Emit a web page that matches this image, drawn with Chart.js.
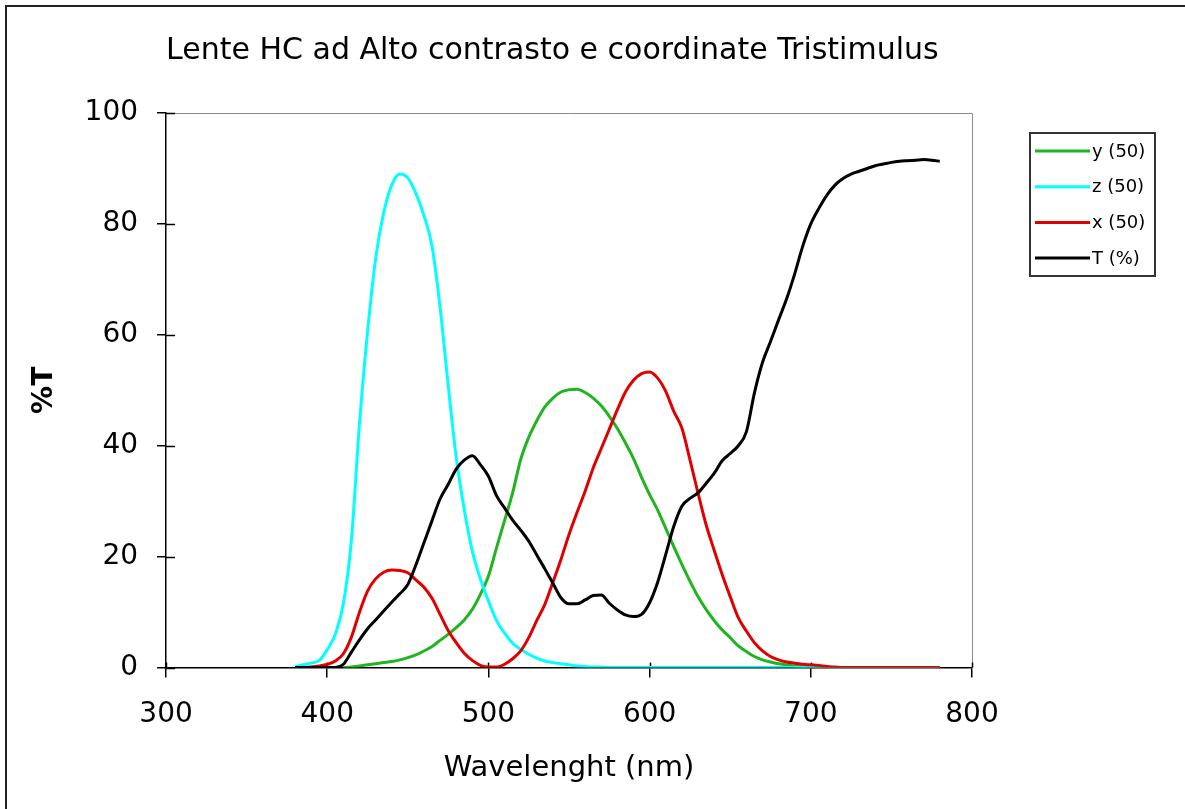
<!DOCTYPE html>
<html>
<head>
<meta charset="utf-8">
<script src="https://cdn.jsdelivr.net/npm/chart.js@4/dist/chart.umd.min.js"></script>
<style>
  html, body { margin: 0; padding: 0; background: #fff; }
  #wrap { width: 1185px; height: 809px; position: relative; }
</style>
</head>
<body>
<div id="wrap"><canvas id="c"></canvas></div>
<script>
// ---- data ----
const wavelengths = [380,385,390,395,400,405,410,415,420,425,430,435,440,445,450,455,460,465,470,475,
  480,485,490,495,500,505,510,515,520,525,530,535,540,545,550,555,560,565,570,575,
  580,585,590,595,600,605,610,615,620,625,630,635,640,645,650,655,660,665,670,675,
  680,685,690,695,700,705,710,715,720,725,730,735,740,745,750,755,760,765,770,775,780];

const seriesY = [null,null,null,null,null,null,0,0.1,0.3,0.5,0.7,0.9,1.1,1.4,1.8,2.3,3.0,3.8,4.9,6.0,
  7.2,8.6,10.5,13.2,16.5,21.6,26.5,31.5,37.5,41.5,44.5,47,48.6,49.7,50.1,50.2,49.6,48.6,47.2,45.3,
  43.1,40.5,37.7,34.3,31.2,28.4,25.1,21.8,18.6,15.6,12.8,10.5,8.5,6.8,5.4,3.9,2.9,2.0,1.4,1.0,
  0.7,0.5,0.3,0.2,0.1,0,0,0,0,0,0,0,0,0,0,0,0,0,0,0,0];

const seriesZ = [0.2,0.5,0.8,1.3,3.2,6,11.5,23,44,60.5,73.7,82,87,89,88.3,85.5,81.5,76,65,51,
  38,28.5,21,16,12,8.5,6.2,4.4,3.3,2.4,1.7,1.2,0.9,0.7,0.5,0.3,0.2,0.1,0.1,0,
  0,0,0,0,0,0,0,0,0,0,0,0,0,0,0,0,0,0,0,0,
  0,0,0,0,0,0,0,0,0,0,0,0,0,0,0,0,0,0,0,0,0];

const seriesX = [null,0,0.1,0.3,0.6,1.2,2.5,5.5,10,13.8,16,17.2,17.6,17.5,17.1,15.8,14.5,12.5,9.6,6.7,
  4.5,2.6,1.3,0.4,0.1,0.1,0.6,1.6,3.0,5.4,8.5,11.4,15.4,19.5,24,28,31.8,36,39.5,43,
  46.5,49.7,51.8,53,53.3,52.2,49.8,46.2,43.2,37.5,31.5,25.8,21.2,16.8,12.8,9.0,6.6,4.5,3.0,2.0,
  1.4,1.0,0.8,0.6,0.5,0.4,0.2,0.1,0,0,0,0,0,0,0,0,0,0,0,0,0];

const seriesT = [0,0,0,0,0,0,0.6,2.8,5,7,8.6,10.2,11.8,13.3,15,18.5,22.5,26.5,30.4,33,
  35.8,37.4,38.2,36.6,34.5,31,28.8,26.6,24.8,22.8,20.3,17.8,15.2,12.6,11.5,11.5,12.2,13,13.1,11.6,
  10.4,9.5,9.2,9.6,11.7,15.4,20.4,25.5,29.1,30.5,31.5,33.2,35,37.3,38.6,40,42.5,49.5,55,58.8,
  62.7,66.5,71,76,80,82.8,85.2,87,88.2,89,89.5,90,90.5,90.8,91.1,91.3,91.4,91.5,91.6,91.5,91.3];

const seriesLabels = ['y (50)', 'z (50)', 'x (50)', 'T (%)'];
const seriesColors = ['#1fb51f', '#00ffff', '#e00000', '#000000'];
const xTickValues = [300, 400, 500, 600, 700, 800];
const yTickValues = [0, 20, 40, 60, 80, 100];
const chartTitle = 'Lente HC ad Alto contrasto e coordinate Tristimulus';
const xTitle = 'Wavelenght (nm)';
const yTitle = '%T';

// ---- chart ----
const FONT = 'DejaVu Sans';
Chart.defaults.font.family = FONT;
Chart.defaults.color = '#000';

const toPoints = arr => wavelengths.map((w, i) => ({x: w, y: arr[i]}));
const allSeries = [seriesY, seriesZ, seriesX, seriesT];

const datasets = allSeries.map((s, i) => ({
  label: seriesLabels[i],
  data: toPoints(s),
  borderColor: seriesColors[i],
  backgroundColor: seriesColors[i],
  borderWidth: 3,
  pointRadius: 0,
  fill: false,
  spanGaps: false,
  cubicInterpolationMode: 'monotone',
  order: 4 - i
}));

const framePlugin = {
  id: 'frame',
  beforeDraw(chart) {
    const ctx = chart.ctx;
    ctx.save();
    ctx.fillStyle = '#fff';
    ctx.fillRect(0, 0, chart.width, chart.height);
    ctx.strokeStyle = '#222';
    ctx.lineWidth = 2;
    ctx.strokeRect(6, 6, chart.width + 50, chart.height + 50);
    ctx.restore();
  },
  beforeDatasetsDraw(chart) {
    const ctx = chart.ctx;
    const a = chart.chartArea;
    ctx.save();
    // plot area top/right border (gray)
    ctx.strokeStyle = '#8c8c8c';
    ctx.lineWidth = 1;
    ctx.beginPath();
    ctx.moveTo(Math.round(a.left) + 0.5, Math.round(a.top) + 0.5);
    ctx.lineTo(Math.round(a.right) + 0.5, Math.round(a.top) + 0.5);
    ctx.lineTo(Math.round(a.right) + 0.5, Math.round(a.bottom) + 0.5);
    ctx.stroke();
    // inner parts of the crossing tick marks
    ctx.strokeStyle = '#000';
    ctx.lineWidth = 1.5;
    const xs = chart.scales.x, ys = chart.scales.y;
    xs.ticks.forEach(t => {
      const px = Math.round(xs.getPixelForValue(t.value)) + 0.5;
      ctx.beginPath(); ctx.moveTo(px, a.bottom); ctx.lineTo(px, a.bottom - 5); ctx.stroke();
    });
    ys.ticks.forEach(t => {
      const py = Math.round(ys.getPixelForValue(t.value)) + 0.5;
      ctx.beginPath(); ctx.moveTo(a.left, py); ctx.lineTo(a.left + 9, py); ctx.stroke();
    });
    ctx.restore();
  },
  afterDraw(chart) {
    // legend box
    const ctx = chart.ctx;
    const bx = 1030, by = 133, bw = 125, bh = 143;
    ctx.save();
    ctx.strokeStyle = '#333';
    ctx.lineWidth = 2;
    ctx.strokeRect(bx, by, bw, bh);
    ctx.font = '18px "' + FONT + '"';
    ctx.textBaseline = 'middle';
    ctx.textAlign = 'left';
    chart.data.datasets.forEach((ds, i) => {
      const y = 151 + i * 35.7;
      ctx.strokeStyle = ds.borderColor;
      ctx.lineWidth = 3;
      ctx.beginPath(); ctx.moveTo(1035, y); ctx.lineTo(1090, y); ctx.stroke();
      ctx.fillStyle = '#000';
      ctx.fillText(ds.label, 1092, y + 1);
    });
    ctx.restore();
  }
};

new Chart(document.getElementById('c'), {
  type: 'line',
  data: { datasets },
  plugins: [framePlugin],
  options: {
    responsive: true,
    maintainAspectRatio: false,
    animation: false,
    layout: { padding: { left: 10, right: 213, top: 0, bottom: 23 } },
    plugins: {
      legend: { display: false },
      tooltip: { enabled: false },
      title: {
        display: true,
        text: chartTitle,
        fullSize: false,
        align: 'start',
        color: '#000',
        font: { size: 30, weight: 'normal', family: FONT },
        padding: { top: 32.8, bottom: 44.2 }
      }
    },
    scales: {
      x: {
        type: 'linear',
        min: 300, max: 800,
        afterBuildTicks: s => { s.ticks = xTickValues.map(v => ({value: v})); },
        ticks: { font: { size: 28 }, padding: 20, color: '#000', maxRotation: 0 },
        grid: { drawOnChartArea: false, drawTicks: true, tickLength: 10, color: '#000', lineWidth: 1.5 },
        border: { display: true, color: '#000', width: 1.5 },
        title: { display: true, text: xTitle, font: { size: 29 }, color: '#000', padding: { top: 0, bottom: 0 } }
      },
      y: {
        type: 'linear',
        min: 0, max: 100,
        afterBuildTicks: s => { s.ticks = yTickValues.map(v => ({value: v})); },
        ticks: { font: { size: 28 }, padding: 19, color: '#000' },
        grid: { drawOnChartArea: false, drawTicks: true, tickLength: 9, color: '#000', lineWidth: 1.5 },
        border: { display: true, color: '#000', width: 1.5 },
        title: { display: true, text: yTitle, font: { size: 28, weight: 'bold' }, color: '#000', padding: { top: 18, bottom: 4 } }
      }
    }
  }
});
</script>
</body>
</html>
